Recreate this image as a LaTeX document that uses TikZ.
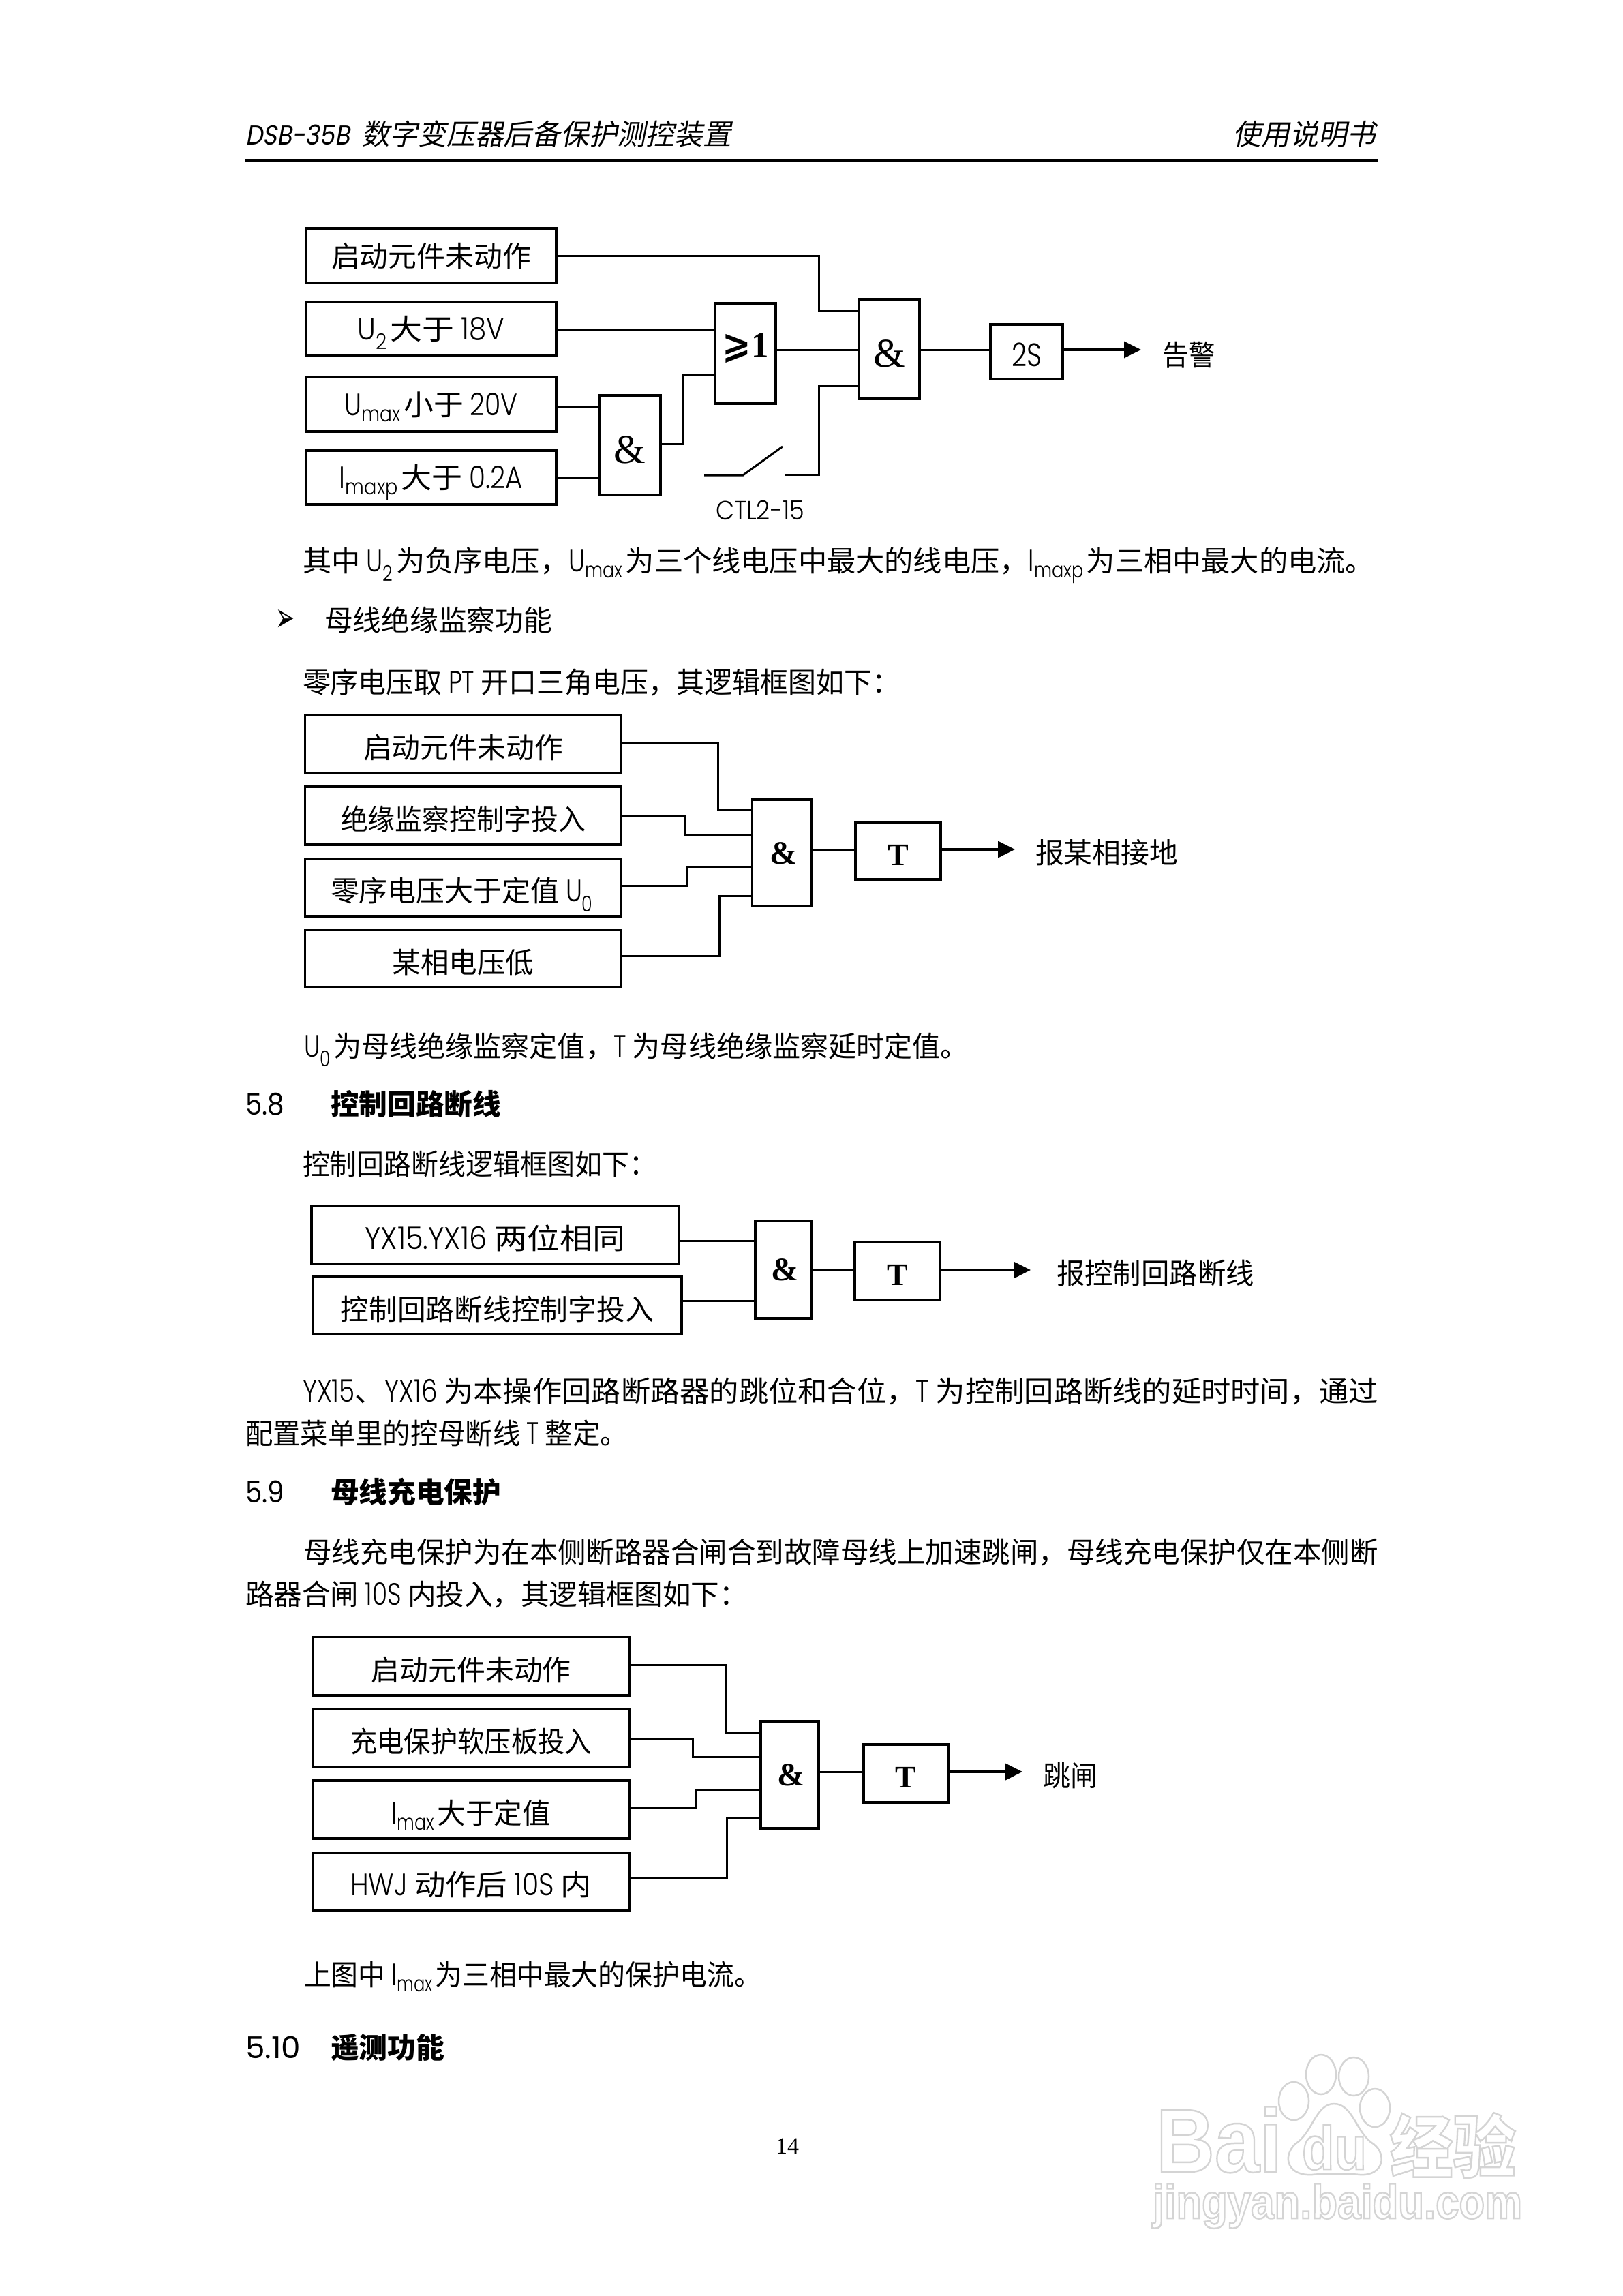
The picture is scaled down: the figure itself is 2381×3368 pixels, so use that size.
\documentclass[tikz,border=0pt]{standalone}
\usepackage{fontspec}
\usepackage{graphicx}
\usetikzlibrary{arrows.meta}
\setmainfont{Noto Sans CJK SC}
\newfontfamily\lat[Scale=1.08,UprightFont={* Light}]{Poppins}
\newfontfamily\latm{Poppins}
\newfontfamily\dv{DejaVu Sans}
\newfontfamily\ser{Liberation Serif}
\newfontfamily\hdr[FakeSlant=0.2]{Noto Sans CJK SC}
\newfontfamily\hdrlat[FakeSlant=0.2]{Poppins}
\newfontfamily\wmsans{Liberation Sans}
\newcommand{\U}[1]{\scalebox{0.8}[1]{\lat #1}}
\newcommand{\Us}[2]{\scalebox{0.8}[1]{\lat #1\textsubscript{#2}}\kern4pt}
\newcommand{\bx}[7]{\node[#6,minimum width={#4-#2},minimum height={#5-#3}] (#1) at ({(#2+#4)/2},{(#3+#5)/2}) {#7};}
\newcommand{\lineT}[5]{\node[ptext] (#1) at (#2,#3) {\resizebox{#4pt}{\height}{#5}};}
\newcommand{\fitw}[2]{\resizebox{#1pt}{\height}{#2}}
\newcommand{\outl}[1]{\special{pdf: code q 1 Tr 2.5 w 0.83 G}#1\special{pdf: code 0 Tr Q}}
\newcommand{\bamp}{\kern4pt\fontsize{48}{50}\selectfont\ser\bfseries \&}
\newcommand{\bT}{\fontsize{46}{50}\selectfont\ser\bfseries T}
\newcommand{\ramp}{\fontsize{60}{60}\selectfont\ser \&}
\tikzset{
  wire/.style={line width=3pt,line cap=square,line join=miter},
  arw/.style={line width=3.5pt,-{Triangle[length=25pt,width=24pt]}},
  lbox/.style={draw,line width=3.5pt,inner sep=0pt,outer sep=0pt,font=\fontsize{42}{50}\selectfont,align=center,text height=36pt,text depth=4pt},
  lboxl/.style={lbox,text height=46pt,text depth=4pt},
  gate/.style={draw,line width=3.5pt,inner sep=0pt,outer sep=0pt},
  gateT/.style={gate,text height=50pt,text depth=8pt},
  gateB/.style={gate,text height=40pt,text depth=8pt},
  gateR/.style={gate,text height=60pt,text depth=8pt},
  gateO/.style={gate,text height=40pt,text depth=28pt},
  ptext/.style={anchor=base west,inner sep=0pt,outer sep=0pt,font=\fontsize{42}{50}\selectfont},
  ctext/.style={inner sep=0pt,outer sep=0pt,font=\fontsize{42}{50}\selectfont},
  wmline/.style={line width=2.5pt,draw=black!17},
}
\begin{document}
\begin{tikzpicture}[x=1pt,y=-1pt]
\path[use as bounding box,fill=white] (0,0) rectangle (2381,3368);

% header
\lineT{hl}{360}{212}{153}{\hdrlat\fontsize{40}{50}\selectfont DSB-35B}
\lineT{hm}{530}{212}{543}{\hdr 数字变压器后备保护测控装置}
\lineT{hr}{1808}{212}{210}{\hdr 使用说明书}
\coordinate (rl) at (360,235);
\coordinate (rr) at (2022,235);
\draw[line width=4pt] (rl) -- (rr);

% diagram 1
\bx{a1}{449}{335}{816}{415}{lbox}{\fitw{293}{启动元件未动作}}
\bx{a2}{449}{443}{816}{521}{lbox}{\fitw{216}{\Us{U}{2}大于 \U{18V}}}
\bx{a3}{449}{553}{816}{633}{lbox}{\fitw{254}{\Us{U}{max}小于 \U{20V}}}
\bx{a4}{449}{661}{816}{740}{lbox}{\fitw{269}{\Us{I}{maxp}大于 \U{0.2A}}}
\bx{aor}{1049}{445}{1138}{592}{gateO}{\fitw{68}{\fontsize{54}{56}\selectfont\bfseries\dv ⩾\ser 1}}
\bx{aand}{1260}{439}{1349}{585}{gateR}{\ramp}
\bx{asm}{879}{580}{969}{726}{gateR}{\ramp}
\bx{at}{1453}{476}{1559}{556}{lboxl}{\fitw{44}{\lat\fontsize{44}{50}\selectfont 2S}}
\coordinate (aend) at (1674,513);
\draw[wire] (a1.east) -- (1201,0 |- a1.east) -- (1201,456) -- (aand.west |- 0,456);
\draw[wire] (a2.east |- 0,484) -- (aor.west |- 0,484);
\draw[wire] (aor.east |- 0,513) -- (aand.west |- 0,513);
\draw[wire] (aand.east |- 0,513) -- (at.west |- 0,513);
\draw[arw] (at.east |- aend) -- (aend);
\draw[wire] (a3.east |- 0,596) -- (asm.west |- 0,596);
\draw[wire] (a4.east |- 0,701) -- (asm.west |- 0,701);
\draw[wire] (asm.east |- 0,651) -- (1001,651) -- (1001,549) -- (aor.west |- 0,549);
\coordinate (swa) at (1033,697);
\coordinate (swb) at (1090,697);
\coordinate (swc) at (1148,655);
\coordinate (swd) at (1152,696);
\draw[wire] (swa) -- (swb) -- (swc);
\draw[wire] (swd) -- (1201,696) -- (1201,566) -- (aand.west |- 0,566);
\node[ctext] (ctl) at (1115,748) {\fitw{130}{\lat\fontsize{36}{40}\selectfont CTL2-15}};
\node[ctext] (agj) at (1744,521) {\fitw{77}{告警}};
\lineT{p1}{444}{838}{1572}{其中 \Us{U}{2}为负序电压，\Us{U}{max}为三个线电压中最大的线电压，\Us{I}{maxp}为三相中最大的电流。}

% bullet
\node[ptext] (bul) at (404,926) {\resizebox{28pt}{32pt}{\dv ➢}};
\lineT{p2}{476}{925}{334}{母线绝缘监察功能}
\lineT{p3}{444}{1016}{876}{零序电压取 \U{PT} 开口三角电压，其逻辑框图如下：}

% diagram 2
\bx{b1}{447.5}{1049}{911.5}{1134}{lboxl}{\fitw{293}{启动元件未动作}}
\bx{b2}{447.5}{1154}{911.5}{1239}{lboxl}{\fitw{359}{绝缘监察控制字投入}}
\bx{b3}{447.5}{1259.5}{911.5}{1344}{lboxl}{\fitw{389}{零序电压大于定值 \Us{U}{0}}}
\bx{b4}{447.5}{1364.5}{911.5}{1448}{lboxl}{\fitw{208}{某相电压低}}
\bx{band}{1103.5}{1173}{1191}{1329}{gateB}{\bamp}
\bx{bt}{1255}{1206}{1380}{1290}{gateT}{\bT}
\coordinate (bend) at (1489,1246);
\draw[wire] (b1.east |- 0,1089) -- (1053,1089) -- (1053,1188) -- (band.west |- 0,1188);
\draw[wire] (b2.east |- 0,1197.5) -- (1004,1197.5) -- (1004,1224) -- (band.west |- 0,1224);
\draw[wire] (b3.east |- 0,1299) -- (1007,1299) -- (1007,1272) -- (band.west |- 0,1272);
\draw[wire] (b4.east |- 0,1402) -- (1055,1402) -- (1055,1314) -- (band.west |- 0,1314);
\draw[wire] (band.east |- bend) -- (bt.west |- bend);
\draw[arw] (bt.east |- bend) -- (bend);
\node[ctext] (bl) at (1623.5,1251) {\fitw{209}{报某相接地}};
\lineT{p4}{446}{1550}{975}{\Us{U}{0}为母线绝缘监察定值，\U{T} 为母线绝缘监察延时定值。}

% 5.8
\node[ptext] (s58) at (360,1635) {\fitw{57}{\latm\fontsize{44}{50}\selectfont 5.8}};
\lineT{s58t}{485}{1635}{250}{\bfseries 控制回路断线}
\lineT{p5}{444}{1723}{519}{控制回路断线逻辑框图如下：}

% diagram 3
\bx{c1}{457}{1769}{996}{1854}{lboxl}{\fitw{382}{\U{YX15.YX16} 两位相同}}
\bx{c2}{458.5}{1873}{1000}{1957}{lboxl}{\fitw{459}{控制回路断线控制字投入}}
\bx{cand}{1108}{1791}{1190}{1934}{gateB}{\bamp}
\bx{ct}{1254}{1822}{1379}{1907}{gateT}{\bT}
\coordinate (cend) at (1512,1863);
\draw[wire] (c1.east |- 0,1820) -- (cand.west |- 0,1820);
\draw[wire] (c2.east |- 0,1908) -- (cand.west |- 0,1908);
\draw[wire] (cand.east |- cend) -- (ct.west |- cend);
\draw[arw] (ct.east |- cend) -- (cend);
\node[ctext] (cl) at (1695,1868) {\fitw{290}{报控制回路断线}};
\lineT{p6}{444}{2056}{1578}{\U{YX15}、\U{YX16} 为本操作回路断路器的跳位和合位，\U{T} 为控制回路断线的延时时间，通过}
\lineT{p7}{360}{2118}{561}{配置菜单里的控母断线 \U{T} 整定。}

% 5.9
\node[ptext] (s59) at (360,2204) {\fitw{57}{\latm\fontsize{44}{50}\selectfont 5.9}};
\lineT{s59t}{485}{2204}{250}{\bfseries 母线充电保护}
\lineT{p8}{445}{2292}{1577}{母线充电保护为在本侧断路器合闸合到故障母线上加速跳闸，母线充电保护仅在本侧断}
\lineT{p9}{360}{2354}{737}{路器合闸 \U{10S} 内投入，其逻辑框图如下：}

% diagram 4
\bx{d1}{458.5}{2401.5}{924}{2487}{lboxl}{\fitw{293}{启动元件未动作}}
\bx{d2}{458.5}{2507}{924}{2592}{lboxl}{\fitw{354}{充电保护软压板投入}}
\bx{d3}{458.5}{2612}{924}{2697}{lboxl}{\fitw{234}{\Us{I}{max}大于定值}}
\bx{d4}{458.5}{2717.5}{924}{2802}{lboxl}{\fitw{354}{\U{HWJ} 动作后 \U{10S} 内}}
\bx{dand}{1116}{2525}{1201}{2682}{gateB}{\bamp}
\bx{dt}{1267}{2559}{1391}{2644}{gateT}{\bT}
\coordinate (dend) at (1500,2599);
\draw[wire] (d1.east |- 0,2442.5) -- (1064,2442.5) -- (1064,2541) -- (dand.west |- 0,2541);
\draw[wire] (d2.east |- 0,2550) -- (1016,2550) -- (1016,2577) -- (dand.west |- 0,2577);
\draw[wire] (d3.east |- 0,2652) -- (1020,2652) -- (1020,2625) -- (dand.west |- 0,2625);
\draw[wire] (d4.east |- 0,2755) -- (1066,2755) -- (1066,2667.5) -- (dand.west |- 0,2667.5);
\draw[wire] (dand.east |- dend) -- (dt.west |- dend);
\draw[arw] (dt.east |- dend) -- (dend);
\node[ctext] (dl) at (1570,2605) {\fitw{80}{跳闸}};
\lineT{p10}{446}{2912}{671}{上图中 \Us{I}{max}为三相中最大的保护电流。}

% 5.10
\node[ptext] (s510) at (360,3019) {\fitw{81}{\latm\fontsize{44}{50}\selectfont 5.10}};
\lineT{s510t}{485}{3019}{167}{\bfseries 遥测功能}

% page number
\node[ctext] (pg) at (1155,3148) {\ser\fontsize{34}{40}\selectfont 14};

% watermark
\draw[wmline] (1938,3043) ellipse (22 and 29);
\draw[wmline] (1986,3046) ellipse (22 and 28);
\draw[wmline] (1898,3082) ellipse (22 and 28);
\draw[wmline] (2017,3092) ellipse (22 and 28);
\draw[wmline] (1957,3086) .. controls (1930,3086) and (1925,3130) .. (1900,3145)
  .. controls (1880,3165) and (1890,3192) .. (1925,3190)
  .. controls (1945,3188) and (1975,3188) .. (1995,3190)
  .. controls (2030,3192) and (2035,3160) .. (2015,3145)
  .. controls (1990,3130) and (1985,3086) .. (1957,3086) -- cycle;
\node[ptext] (wb) at (1696,3186) {\resizebox{185pt}{\height}{\outl{\wmsans\bfseries\fontsize{132}{140}\selectfont Bai}}};
\node[ptext] (wd) at (1910,3182) {\resizebox{95pt}{\height}{\outl{\wmsans\bfseries\fontsize{90}{100}\selectfont du}}};
\node[ptext] (wj) at (2039,3186) {\resizebox{185pt}{\height}{\outl{\bfseries\fontsize{100}{110}\selectfont 经验}}};
\node[ptext] (wu) at (1691,3254) {\resizebox{542pt}{\height}{\outl{\wmsans\bfseries\fontsize{70}{80}\selectfont jingyan.baidu.com}}};
\end{tikzpicture}
\end{document}
